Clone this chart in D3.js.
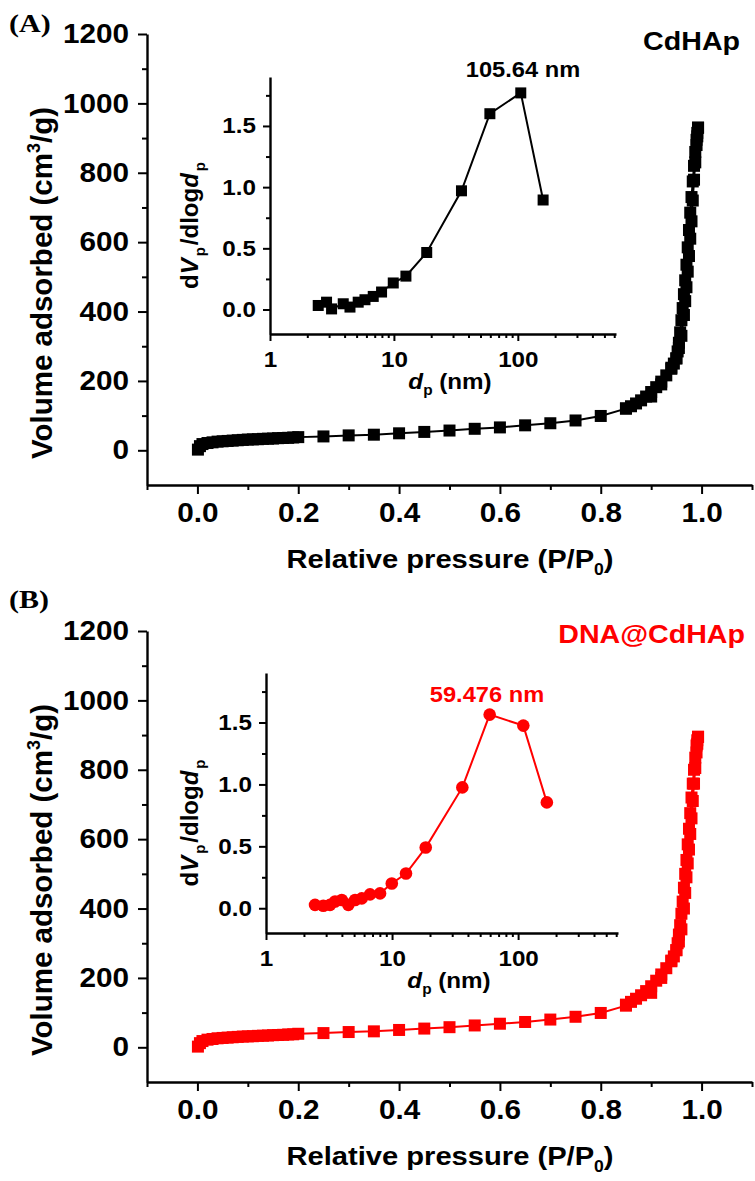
<!DOCTYPE html>
<html>
<head>
<meta charset="utf-8">
<script src="https://cdn.jsdelivr.net/npm/d3@7"></script>
<style>
body { margin: 0; background: #fff; }
text { font-family: "Liberation Sans", Arial, sans-serif; font-weight: bold; }
.tag { font-family: "Liberation Serif", "Times New Roman", serif; }
</style>
</head>
<body>
<div id="main"></div>
<script>
const ctx = {
    SVG_W: 755,
    SVG_H: 1181,
    SX: 1.1,   // text in the source is a bit wide
};

// ---- (A) CdHAp isotherm ----
const adsP_A = [0.001, 0.005, 0.01, 0.02, 0.03, 0.04, 0.05, 0.06, 0.07, 0.08, 0.09, 0.10, 0.11, 0.12, 0.13, 0.14, 0.15, 0.16, 0.17, 0.18, 0.19, 0.20,
    0.25, 0.30, 0.35, 0.40, 0.45, 0.50, 0.55, 0.60, 0.65, 0.70, 0.75, 0.80, 0.85, 0.90, 0.92, 0.94, 0.95, 0.955, 0.96, 0.965, 0.9675, 0.97,
    0.9725, 0.975, 0.9775, 0.98, 0.9825, 0.985, 0.9875, 0.99, 0.9915, 0.993];
const adsV_A = [2, 12, 18, 21, 23, 25, 26, 27, 28, 29, 30, 31, 31.5, 32, 33, 33.5, 34, 35, 35.5, 36, 37, 38,
    40, 43, 45, 49, 53, 57, 62, 66, 72, 78, 86, 99, 120, 155, 190, 235, 265, 295, 330, 390, 430, 470,
    515, 560, 610, 660, 720, 780, 830, 880, 905, 930];
const desP_A = [0.993, 0.9915, 0.99, 0.9875, 0.985, 0.9825, 0.98, 0.9775, 0.975, 0.9725, 0.97, 0.9675, 0.965, 0.9625, 0.96, 0.9575,
    0.955, 0.9525, 0.95, 0.945, 0.94, 0.93, 0.92, 0.91, 0.90, 0.89, 0.88, 0.87, 0.86, 0.85];
const desV_A = [930, 915, 895, 860, 820, 775, 730, 685, 635, 585, 535, 490, 450, 410, 375, 340,
    310, 285, 265, 250, 238, 216, 198, 182, 168, 155, 144, 135, 127, 121];
// pore size distribution (inset)
const psdD_A = [2.45, 2.86, 3.14, 3.9, 4.42, 5.15, 5.84, 6.81, 7.95, 9.88, 12.5, 18.4, 35.1, 59.5, 105.64, 160];
const psdV_A = [0.033, 0.06, 0.005, 0.047, 0.02, 0.06, 0.08, 0.107, 0.143, 0.217, 0.273, 0.466, 0.97, 1.60, 1.77, 0.895];

// ---- (B) DNA@CdHAp isotherm ----
const adsP_B = [0.001, 0.005, 0.01, 0.02, 0.03, 0.04, 0.05, 0.06, 0.07, 0.08, 0.09, 0.10, 0.11, 0.12, 0.13, 0.14, 0.15, 0.16, 0.17, 0.18, 0.19, 0.20,
    0.25, 0.30, 0.35, 0.40, 0.45, 0.50, 0.55, 0.60, 0.65, 0.70, 0.75, 0.80, 0.85, 0.90, 0.92, 0.94, 0.95, 0.955, 0.96, 0.965, 0.9675, 0.97,
    0.9725, 0.975, 0.9775, 0.98, 0.9825, 0.985, 0.9875, 0.99, 0.9915, 0.993];
const adsV_B = [2, 12, 18, 22, 24, 26, 27, 28, 29, 30, 31, 31.5, 32, 33, 33.5, 34, 35, 35.5, 36, 37, 37.5, 39,
    41, 44, 46, 50, 54, 58, 63, 68, 73, 80, 88, 99, 120, 157, 200, 248, 280, 305, 340, 400, 445, 490,
    530, 570, 615, 660, 710, 760, 805, 850, 875, 895];
const desP_B = [0.993, 0.9915, 0.99, 0.9875, 0.985, 0.9825, 0.98, 0.9775, 0.975, 0.9725, 0.97, 0.9675, 0.965, 0.9625, 0.96, 0.9575,
    0.955, 0.9525, 0.95, 0.945, 0.94, 0.93, 0.92, 0.91, 0.90, 0.89, 0.88, 0.87, 0.86, 0.85];
const desV_B = [895, 885, 870, 835, 800, 760, 720, 675, 630, 585, 540, 500, 460, 420, 385, 352,
    325, 300, 280, 262, 250, 228, 210, 192, 176, 162, 150, 140, 131, 123];
const psdD_B = [2.45, 2.85, 3.22, 3.53, 3.99, 4.5, 5.09, 5.75, 6.69, 8.03, 9.95, 12.9, 18.5, 36.1, 59.476, 110, 169];
const psdV_B = [0.027, 0.02, 0.027, 0.054, 0.067, 0.027, 0.067, 0.08, 0.112, 0.12, 0.2, 0.28, 0.49, 0.976, 1.564, 1.475, 0.855];

// ---- ticks ----
const xTicksMain = [0, 0.2, 0.4, 0.6, 0.8, 1.0];
const xMinorMain = [-0.1, 0.1, 0.3, 0.5, 0.7, 0.9, 1.1];
const yTicksMain = [0, 200, 400, 600, 800, 1000, 1200];
const yMinorMain = [100, 300, 500, 700, 900, 1100];
const xTicksInset = [1, 10, 100];
const xMinorInset = [2, 3, 4, 5, 6, 7, 8, 9, 20, 30, 40, 50, 60, 70, 80, 90, 200, 300, 400, 500, 600];
const yTicksInset = [0, 0.5, 1.0, 1.5];
const yMinorInset = [0.25, 0.75, 1.25, 1.75];

function stretch(sel) {
    sel.each(function () {
        const t = d3.select(this);
        const x = +t.attr("x") || 0;
        t.attr("x", 0).attr("transform", `translate(${x},0) scale(${ctx.SX},1)`);
    });
}

function styleAxis(ax, size, keepDomain) {
    ax.attr("font-size", size).attr("font-family", null);
    ax.select(".domain").attr("stroke-width", 2.4).attr("stroke", "#000");
    if (!keepDomain) ax.select(".domain").remove();
    ax.selectAll(".tick line").attr("stroke-width", 2).attr("stroke", "#000");
    ax.selectAll(".tick text").attr("fill", "#000");
    stretch(ax.selectAll(".tick text"));
}

function addText(g, x, y, size, anchor, color) {
    return g.append("text")
        .attr("transform", `translate(${x},${y}) scale(${ctx.SX},1)`)
        .attr("font-size", size)
        .attr("text-anchor", anchor)
        .attr("fill", color || "#000");
}

function drawPanel(svgEl, p) {
    const g = svgEl.append("g").attr("transform", `translate(0,${p.dy})`);

    // main isotherm
    const x = d3.scaleLinear().domain([-0.1, 1.1]).range([147, 752]);
    const y = d3.scaleLinear().domain([-100, 1200]).range([485, 34]);

    let ax = g.append("g").attr("transform", "translate(0,485)")
        .call(d3.axisBottom(x).tickValues(xMinorMain).tickSize(5).tickFormat(""));
    styleAxis(ax, 27, false);
    ax = g.append("g").attr("transform", "translate(0,485)")
        .call(d3.axisBottom(x).tickValues(xTicksMain).tickSize(9).tickSizeOuter(0).tickPadding(9).tickFormat(d3.format(".1f")));
    styleAxis(ax, 27, true);
    ax = g.append("g").attr("transform", "translate(147,0)")
        .call(d3.axisLeft(y).tickValues(yMinorMain).tickSize(5).tickFormat(""));
    styleAxis(ax, 27, false);
    ax = g.append("g").attr("transform", "translate(147,0)")
        .call(d3.axisLeft(y).tickValues(yTicksMain).tickSize(9).tickSizeOuter(0).tickPadding(9).tickFormat(d3.format("d")));
    styleAxis(ax, 27, true);

    const line = d3.line().x(d => x(d[0])).y(d => y(d[1]));
    [[p.adsP, p.adsV], [p.desP, p.desV]].forEach(function (s) {
        const pts = s[0].map((v, i) => [v, s[1][i]]);
        g.append("path").datum(pts).attr("d", line)
            .attr("fill", "none").attr("stroke", p.color).attr("stroke-width", 2);
        g.append("g").selectAll("rect").data(pts).enter().append("rect")
            .attr("x", d => x(d[0]) - 6).attr("y", d => y(d[1]) - 6)
            .attr("width", 12).attr("height", 12).attr("fill", p.color);
    });

    // inset: pore size distribution
    const ix = d3.scaleLog().domain([1, 620]).range([p.inL, p.inR]);
    const iy = d3.scaleLinear().domain([-0.2, 1.9]).range([p.inB, p.inT]);

    ax = g.append("g").attr("transform", `translate(0,${p.inB})`)
        .call(d3.axisBottom(ix).tickValues(xMinorInset).tickSize(4).tickFormat(""));
    styleAxis(ax, 22, false);
    ax = g.append("g").attr("transform", `translate(0,${p.inB})`)
        .call(d3.axisBottom(ix).tickValues(xTicksInset).tickSize(7).tickSizeOuter(0).tickPadding(10).tickFormat(d3.format("d")));
    styleAxis(ax, 22, true);
    ax = g.append("g").attr("transform", `translate(${p.inL},0)`)
        .call(d3.axisLeft(iy).tickValues(yMinorInset).tickSize(4).tickFormat(""));
    styleAxis(ax, 22, false);
    ax = g.append("g").attr("transform", `translate(${p.inL},0)`)
        .call(d3.axisLeft(iy).tickValues(yTicksInset).tickSize(7).tickSizeOuter(0).tickPadding(7).tickFormat(d3.format(".1f")));
    styleAxis(ax, 22, true);

    const psd = p.psdD.map((v, i) => [v, p.psdV[i]]);
    g.append("path").datum(psd)
        .attr("d", d3.line().x(d => ix(d[0])).y(d => iy(d[1])))
        .attr("fill", "none").attr("stroke", p.color).attr("stroke-width", 2);
    if (p.marker === "square") {
        g.append("g").selectAll("rect").data(psd).enter().append("rect")
            .attr("x", d => ix(d[0]) - 5.5).attr("y", d => iy(d[1]) - 5.5)
            .attr("width", 11).attr("height", 11).attr("fill", p.color);
    } else {
        g.append("g").selectAll("circle").data(psd).enter().append("circle")
            .attr("cx", d => ix(d[0])).attr("cy", d => iy(d[1])).attr("r", 6.3)
            .attr("fill", p.color);
    }

    // texts
    g.append("text").attr("class", "tag")
        .attr("transform", `translate(9,${p.tagY}) scale(1.2,1)`)
        .attr("font-size", 25).text(p.tag);
    addText(g, p.nameX, p.nameY, 26, "end", p.color).text(p.name);
    addText(g, p.peakX, p.peakY, 21.5, "middle", p.color).text(p.peakLabel);

    let t = addText(g, 450, 568, 26.5, "middle");
    t.append("tspan").text("Relative pressure (P/P");
    t.append("tspan").attr("font-size", 16).attr("dy", 7).text("0");
    t.append("tspan").attr("dy", -7).text(")");

    t = g.append("text").attr("transform", "translate(52,283) rotate(-90)")
        .attr("font-size", 29.5).attr("text-anchor", "middle");
    t.append("tspan").text("Volume adsorbed (cm");
    t.append("tspan").attr("font-size", 18).attr("dy", -12).text("3");
    t.append("tspan").attr("dy", 12).text("/g)");

    t = addText(g, (p.inL + p.inR) / 2 + 7, p.inB + 55, 22, "middle");
    t.append("tspan").attr("font-style", "italic").text("d");
    t.append("tspan").attr("font-size", 14).attr("dy", 6).text("p");
    t.append("tspan").attr("dy", -6).text(" (nm)");

    t = g.append("text").attr("transform", `translate(198,${(p.inT + p.inB) / 2 + 20}) rotate(-90)`)
        .attr("font-size", 24).attr("text-anchor", "middle");
    t.append("tspan").text("d");
    t.append("tspan").attr("font-style", "italic").text("V");
    t.append("tspan").attr("font-size", 15).attr("dy", 7).attr("dx", 2).text("p");
    t.append("tspan").attr("dy", -7).attr("dx", 2).text("/dlog");
    t.append("tspan").attr("font-style", "italic").text("d");
    t.append("tspan").attr("font-size", 15).attr("dy", 7).attr("dx", 2).text("p");
}

function createViz() {
    const svgEl = d3.select("#main").append("svg")
        .attr("width", ctx.SVG_W).attr("height", ctx.SVG_H);
    svgEl.append("rect").attr("width", ctx.SVG_W).attr("height", ctx.SVG_H).attr("fill", "#fff");

    drawPanel(svgEl, {
        dy: 0, color: "#000", marker: "square",
        adsP: adsP_A, adsV: adsV_A, desP: desP_A, desV: desV_A,
        psdD: psdD_A, psdV: psdV_A,
        inL: 270, inR: 616, inT: 77, inB: 334,
        tag: "(A)", tagY: 32, name: "CdHAp", nameX: 740, nameY: 50,
        peakLabel: "105.64 nm", peakX: 523, peakY: 77,
    });
    drawPanel(svgEl, {
        dy: 597, color: "#ff0000", marker: "circle",
        adsP: adsP_B, adsV: adsV_B, desP: desP_B, desV: desV_B,
        psdD: psdD_B, psdV: psdV_B,
        inL: 266, inR: 618, inT: 76, inB: 336,
        tag: "(B)", tagY: 11, name: "DNA@CdHAp", nameX: 745, nameY: 46,
        peakLabel: "59.476 nm", peakX: 487, peakY: 105,
    });
}

createViz();
</script>
</body>
</html>
